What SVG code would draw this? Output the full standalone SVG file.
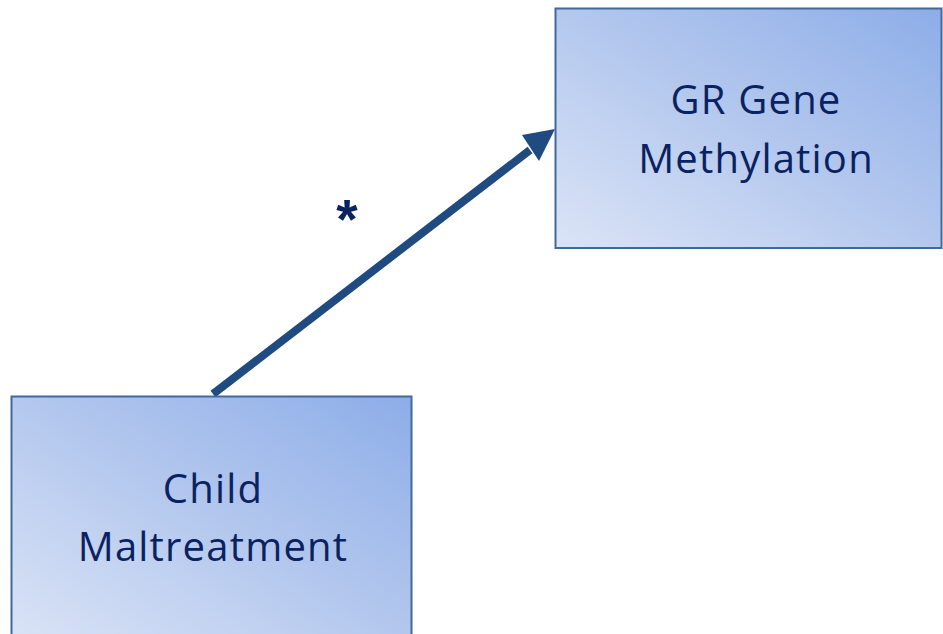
<svg xmlns="http://www.w3.org/2000/svg" width="943" height="634" viewBox="0 0 943 634">
  <style>
    .box { fill: url(#boxFill); stroke: #41699a; stroke-width: 2; }
    .label { font-family: "Open Sans", "Noto Sans", sans-serif; font-size: 40px; letter-spacing: 1.2px; fill: #0a2360; text-anchor: middle; }
    .star { font-family: "Liberation Sans", sans-serif; font-size: 55px; font-weight: bold; fill: #0a2360; text-anchor: middle; }
    .link { stroke: #1f4b80; stroke-width: 8; fill: none; }
  </style>
  <defs>
    <linearGradient id="boxFill" x1="0" y1="1" x2="1" y2="0">
      <stop offset="0" stop-color="#dbe4f6"/>
      <stop offset="0.5" stop-color="#b4c8ee"/>
      <stop offset="1" stop-color="#8dade8"/>
    </linearGradient>
  </defs>
  <rect width="943" height="634" fill="#ffffff"/>
  <g id="connectors">
    <line class="link" x1="213" y1="394" x2="530" y2="150"/>
    <polygon points="555,129 522,135 539,161" fill="#1f4b80"/>
    <text class="star" x="347" y="238">*</text>
  </g>
  <g id="gr-gene-methylation">
    <rect class="box" x="555.5" y="8.5" width="386" height="239.5"/>
    <text class="label" x="756" y="114">GR Gene</text>
    <text class="label" x="756" y="173">Methylation</text>
  </g>
  <g id="child-maltreatment">
    <rect class="box" x="11.5" y="396.5" width="400" height="250"/>
    <text class="label" x="213" y="503">Child</text>
    <text class="label" x="213" y="561">Maltreatment</text>
  </g>
</svg>
